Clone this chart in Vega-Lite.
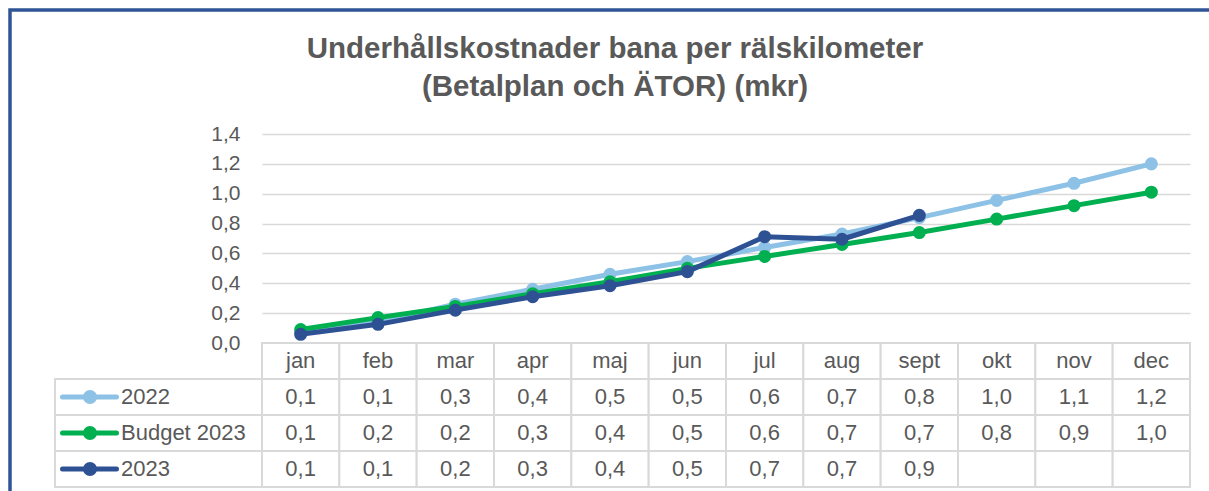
{
  "$schema": "https://vega.github.io/schema/vega-lite/v6.json",
  "background": "white",
  "padding": {"left": 8, "top": 8, "right": 0, "bottom": 0},
  "title": {
    "text": ["Underhållskostnader bana per rälskilometer", "(Betalplan och ÄTOR) (mkr)"],
    "font": "Liberation Sans",
    "fontSize": 29.5,
    "fontWeight": "bold",
    "color": "#595959",
    "lineHeight": 38,
    "anchor": "middle",
    "frame": "group",
    "offset": -94,
    "dx": 560
  },
  "config": {
    "font": "Liberation Sans",
    "view": {"stroke": null},
    "legend": {"strokeWidth": 3.5},
    "locale": {"number": {"decimal": ",", "thousands": " ", "grouping": [3], "currency": ["", " kr"]}}
  },
  "datasets": {
    "d": [
      {"manad": "jan", "serie": "2022", "varde": 0.07},
      {"manad": "feb", "serie": "2022", "varde": 0.14},
      {"manad": "mar", "serie": "2022", "varde": 0.26},
      {"manad": "apr", "serie": "2022", "varde": 0.36},
      {"manad": "maj", "serie": "2022", "varde": 0.46},
      {"manad": "jun", "serie": "2022", "varde": 0.545},
      {"manad": "jul", "serie": "2022", "varde": 0.64},
      {"manad": "aug", "serie": "2022", "varde": 0.73},
      {"manad": "sept", "serie": "2022", "varde": 0.84},
      {"manad": "okt", "serie": "2022", "varde": 0.955},
      {"manad": "nov", "serie": "2022", "varde": 1.07},
      {"manad": "dec", "serie": "2022", "varde": 1.2},
      {"manad": "jan", "serie": "Budget 2023", "varde": 0.09},
      {"manad": "feb", "serie": "Budget 2023", "varde": 0.17},
      {"manad": "mar", "serie": "Budget 2023", "varde": 0.245},
      {"manad": "apr", "serie": "Budget 2023", "varde": 0.33},
      {"manad": "maj", "serie": "Budget 2023", "varde": 0.41},
      {"manad": "jun", "serie": "Budget 2023", "varde": 0.5},
      {"manad": "jul", "serie": "Budget 2023", "varde": 0.58},
      {"manad": "aug", "serie": "Budget 2023", "varde": 0.66},
      {"manad": "sept", "serie": "Budget 2023", "varde": 0.74},
      {"manad": "okt", "serie": "Budget 2023", "varde": 0.83},
      {"manad": "nov", "serie": "Budget 2023", "varde": 0.92},
      {"manad": "dec", "serie": "Budget 2023", "varde": 1.01},
      {"manad": "jan", "serie": "2023", "varde": 0.058},
      {"manad": "feb", "serie": "2023", "varde": 0.125},
      {"manad": "mar", "serie": "2023", "varde": 0.22},
      {"manad": "apr", "serie": "2023", "varde": 0.31},
      {"manad": "maj", "serie": "2023", "varde": 0.384},
      {"manad": "jun", "serie": "2023", "varde": 0.478},
      {"manad": "jul", "serie": "2023", "varde": 0.712},
      {"manad": "aug", "serie": "2023", "varde": 0.695},
      {"manad": "sept", "serie": "2023", "varde": 0.855},
      {"manad": "okt", "serie": "2023", "varde": null},
      {"manad": "nov", "serie": "2023", "varde": null},
      {"manad": "dec", "serie": "2023", "varde": null}
    ]
  },
  "columns": 2,
  "spacing": 0,
  "bounds": "flush",
  "concat": [
    {
      "width": 207,
      "height": 209,
      "data": {"values": [{}]},
      "mark": {"type": "point", "opacity": 0},
      "encoding": {
        "shape": {
          "datum": "ram", "type": "nominal",
          "legend": {
            "orient": "none", "legendX": -45, "legendY": -124,
            "title": null, "padding": 640,
            "strokeColor": "#2F5597",
            "symbolOpacity": 0, "labelOpacity": 0, "symbolSize": 0, "labelFontSize": 1,
            "labelExpr": "''"
          }
        }
      }
    },
    {
      "width": 928,
      "height": 209,
      "data": {"name": "d"},
      "transform": [{"filter": "isValid(datum.varde)"}],
      "encoding": {
        "x": {
          "field": "manad", "type": "ordinal",
          "sort": ["jan", "feb", "mar", "apr", "maj", "jun", "jul", "aug", "sept", "okt", "nov", "dec"],
          "scale": {"type": "point", "padding": 0.5},
          "axis": null
        },
        "y": {
          "field": "varde", "type": "quantitative",
          "scale": {"domain": [0, 1.4], "nice": false, "zero": true},
          "axis": {
            "title": null,
            "values": [0, 0.2, 0.4, 0.6, 0.8, 1, 1.2, 1.4],
            "format": ".1f",
            "grid": true, "gridColor": "#d9d9d9", "gridWidth": 1.5,
            "domain": false, "ticks": false,
            "labelFontSize": 21, "labelColor": "#595959", "labelPadding": 22
          }
        },
        "color": {
          "field": "serie", "type": "nominal",
          "scale": {"domain": ["2022", "Budget 2023", "2023"], "range": ["#8DC2E6", "#00B050", "#2E5193"]},
          "legend": null
        }
      },
      "layer": [
        {"transform": [{"filter": "datum.serie === '2022'"}],
         "mark": {"type": "line", "strokeWidth": 5, "strokeJoin": "round", "strokeCap": "round", "point": {"filled": true, "size": 170, "opacity": 1}}},
        {"transform": [{"filter": "datum.serie === 'Budget 2023'"}],
         "mark": {"type": "line", "strokeWidth": 5, "strokeJoin": "round", "strokeCap": "round", "point": {"filled": true, "size": 170, "opacity": 1}}},
        {"transform": [{"filter": "datum.serie === '2023'"}],
         "mark": {"type": "line", "strokeWidth": 5, "strokeJoin": "round", "strokeCap": "round", "point": {"filled": true, "size": 170, "opacity": 1}}}
      ]
    },
    {
      "width": 207,
      "height": 144,
      "data": {"name": "d"},
      "transform": [{"filter": "datum.manad === 'jan'"}],
      "encoding": {
        "y": {
          "field": "serie", "type": "nominal",
          "scale": {"domain": ["header", "2022", "Budget 2023", "2023"], "paddingInner": 0, "paddingOuter": 0},
          "axis": null
        }
      },
      "layer": [
        {"mark": {"type": "rect", "fill": "white", "stroke": "#d9d9d9", "strokeWidth": 2}},
        {"mark": {
           "type": "point",
           "shape": "M-96,0L-42,0M-64,0A4.5,4.5 0 1,1 -73,0A4.5,4.5 0 1,1 -64,0Z",
           "size": 4, "filled": true, "opacity": 1, "strokeWidth": 5, "strokeCap": "round", "strokeJoin": "round"
         },
         "encoding": {
           "fill": {"field": "serie", "type": "nominal", "scale": {"domain": ["2022", "Budget 2023", "2023"], "range": ["#8DC2E6", "#00B050", "#2E5193"]}, "legend": null},
           "stroke": {"field": "serie", "type": "nominal", "scale": {"domain": ["2022", "Budget 2023", "2023"], "range": ["#8DC2E6", "#00B050", "#2E5193"]}, "legend": null}
         }},
        {"mark": {"type": "text", "align": "left", "baseline": "middle", "dx": -37.5, "fontSize": 22, "color": "#595959"},
         "encoding": {"text": {"field": "serie", "type": "nominal"}}}
      ]
    },
    {
      "width": 928,
      "height": 144,
      "data": {"name": "d"},
      "encoding": {
        "x": {
          "field": "manad", "type": "ordinal",
          "sort": ["jan", "feb", "mar", "apr", "maj", "jun", "jul", "aug", "sept", "okt", "nov", "dec"],
          "scale": {"type": "band", "paddingInner": 0, "paddingOuter": 0},
          "axis": null
        },
        "y": {
          "field": "serie", "type": "nominal",
          "scale": {"domain": ["header", "2022", "Budget 2023", "2023"], "paddingInner": 0, "paddingOuter": 0},
          "axis": null
        }
      },
      "layer": [
        {"mark": {"type": "rect", "fill": "white", "stroke": "#d9d9d9", "strokeWidth": 2}},
        {"transform": [{"filter": "datum.serie === '2022'"}],
         "mark": {"type": "rect", "fill": "white", "stroke": "#d9d9d9", "strokeWidth": 2},
         "encoding": {"y": {"datum": "header", "type": "nominal"}}},
        {"transform": [{"filter": "isValid(datum.varde)"}],
         "mark": {"type": "text", "baseline": "middle", "fontSize": 22, "color": "#595959"},
         "encoding": {"text": {"field": "varde", "type": "quantitative", "format": ".1f"}}},
        {"transform": [{"filter": "datum.serie === '2022'"}],
         "mark": {"type": "text", "baseline": "middle", "fontSize": 22, "color": "#595959"},
         "encoding": {"y": {"datum": "header", "type": "nominal"}, "text": {"field": "manad", "type": "nominal"}}}
      ]
    }
  ]
}
